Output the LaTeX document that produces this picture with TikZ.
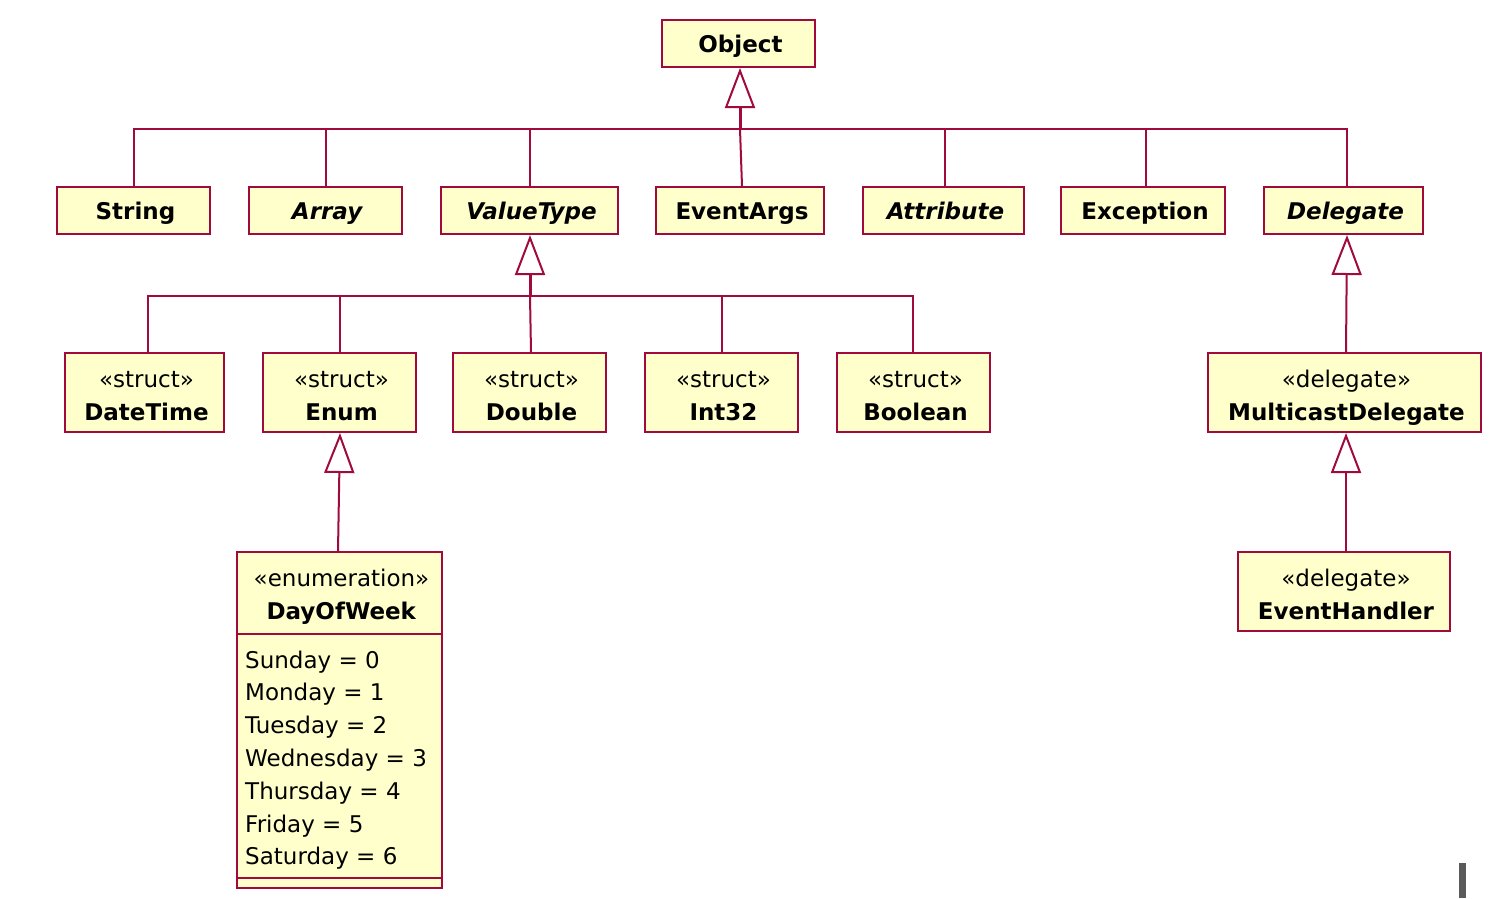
\documentclass[tikz,border=0pt]{standalone}
\usepackage{fontspec}
\setmainfont{DejaVu Sans}
\usetikzlibrary{arrows.meta}
\definecolor{umlline}{RGB}{160,10,60}
\definecolor{umlfill}{RGB}{255,255,204}
\definecolor{bargray}{RGB}{90,90,90}
\newcommand\umlstereobox[6]{%
  \node[cls, minimum width=#4pt, minimum height=79pt] (#1) at (#2,#3) {};
  \node[txt, anchor=base] (#1-st) at (#2+2,#3-5.5) {#5};
  \node[txt, anchor=base] (#1-nm) at (#2+2,#3+27.5) {\textbf{#6}};
}
\newcommand\umlbox[5]{%
  \node[cls, minimum width=#4pt, minimum height=47pt] (#1) at (#2,#3) {};
  \node[txt, anchor=base] (#1-nm) at (#2+2,#3+8.5) {\textbf{#5}};
}
\begin{document}
\begin{tikzpicture}[x=1pt,y=-1pt,
 cls/.style={draw=umlline, fill=umlfill, line width=2pt, inner sep=0pt},
 txt/.style={inner sep=0pt, font=\fontsize{23}{32.8}\selectfont},
 conn/.style={draw=umlline, line width=2pt},
 gentip/.style={-{Triangle[fill=white, length=40pt, width=30pt, line width=2pt]}},
 gen/.style={draw=umlline, line width=3pt, gentip},
 genthin/.style={conn, gentip},
]
\useasboundingbox (0,0) rectangle (1502,898);

% top level
\umlbox{Object}{738.5}{43.5}{153}{Object}
\umlbox{String}{133.5}{210.5}{153}{String}
\umlbox{Array}{325.5}{210.5}{153}{\itshape Array}
\umlbox{ValueType}{529.5}{210.5}{177}{\itshape ValueType}
\umlbox{EventArgs}{740}{210.5}{168}{EventArgs}
\umlbox{Attribute}{943.5}{210.5}{161}{\itshape Attribute}
\umlbox{Exception}{1143}{210.5}{164}{Exception}
\umlbox{Delegate}{1343.5}{210.5}{159}{\itshape Delegate}

% second level
\umlstereobox{DateTime}{144.5}{392.5}{159}{«struct»}{DateTime}
\umlstereobox{Enum}{339.5}{392.5}{153}{«struct»}{Enum}
\umlstereobox{Double}{529.5}{392.5}{153}{«struct»}{Double}
\umlstereobox{Int32}{721.5}{392.5}{153}{«struct»}{Int32}
\umlstereobox{Boolean}{913.5}{392.5}{153}{«struct»}{Boolean}
\umlstereobox{Multicast}{1344.5}{392.5}{273}{«delegate»}{MulticastDelegate}

% third level
\umlstereobox{EventHandler}{1344}{591.5}{212}{«delegate»}{EventHandler}
\node[cls, minimum width=205pt, minimum height=336pt] (DayOfWeek) at (339.5,720) {};
\node[txt, anchor=base] (dow-st) at (341.5,586) {«enumeration»};
\node[txt, anchor=base] (dow-nm) at (341.5,619) {\textbf{DayOfWeek}};
\draw[conn] (DayOfWeek.west |- 0,634) -- (DayOfWeek.east |- 0,634);
\draw[conn] (DayOfWeek.west |- 0,878) -- (DayOfWeek.east |- 0,878);
\node[txt, align=left, anchor=base west] (dowlist) at (245,864.8) {Sunday = 0\\Monday = 1\\Tuesday = 2\\Wednesday = 3\\Thursday = 4\\Friday = 5\\Saturday = 6};

% Object generalization tree
\coordinate (jo) at (740,129);
\draw[gen] (jo) -- (jo |- Object.south);
\draw[conn] ([xshift=0.5pt]String.north) |- (jo);
\draw[conn] ([xshift=0.5pt]Array.north) |- (jo);
\draw[conn] ([xshift=0.5pt]ValueType.north) |- (jo);
\draw[conn] ([xshift=2pt]EventArgs.north) -- (jo);
\draw[conn] ([xshift=1.5pt]Attribute.north) |- (jo);
\draw[conn] ([xshift=3pt]Exception.north) |- (jo);
\draw[conn] ([xshift=3.5pt]Delegate.north) |- (jo);

% ValueType generalization tree
\coordinate (jv) at (530,296);
\draw[gen] (jv) -- (jv |- ValueType.south);
\draw[conn] ([xshift=3.5pt]DateTime.north) |- (jv);
\draw[conn] ([xshift=0.5pt]Enum.north) |- (jv);
\draw[conn] ([xshift=1.5pt]Double.north) -- (jv);
\draw[conn] ([xshift=0.5pt]Int32.north) |- (jv);
\draw[conn] ([xshift=-0.5pt]Boolean.north) |- (jv);

% single generalizations
\draw[genthin] ([xshift=1.5pt]Multicast.north) -- ([xshift=3.5pt]Delegate.south);
\draw[genthin] ([xshift=2pt]EventHandler.north) -- ([xshift=1.5pt]Multicast.south);
\draw[genthin] ([xshift=-1.5pt]DayOfWeek.north) -- ([xshift=0.5pt]Enum.south);

% gray bar
\fill[bargray] (1459,863) rectangle (1466,898);
\end{tikzpicture}
\end{document}
